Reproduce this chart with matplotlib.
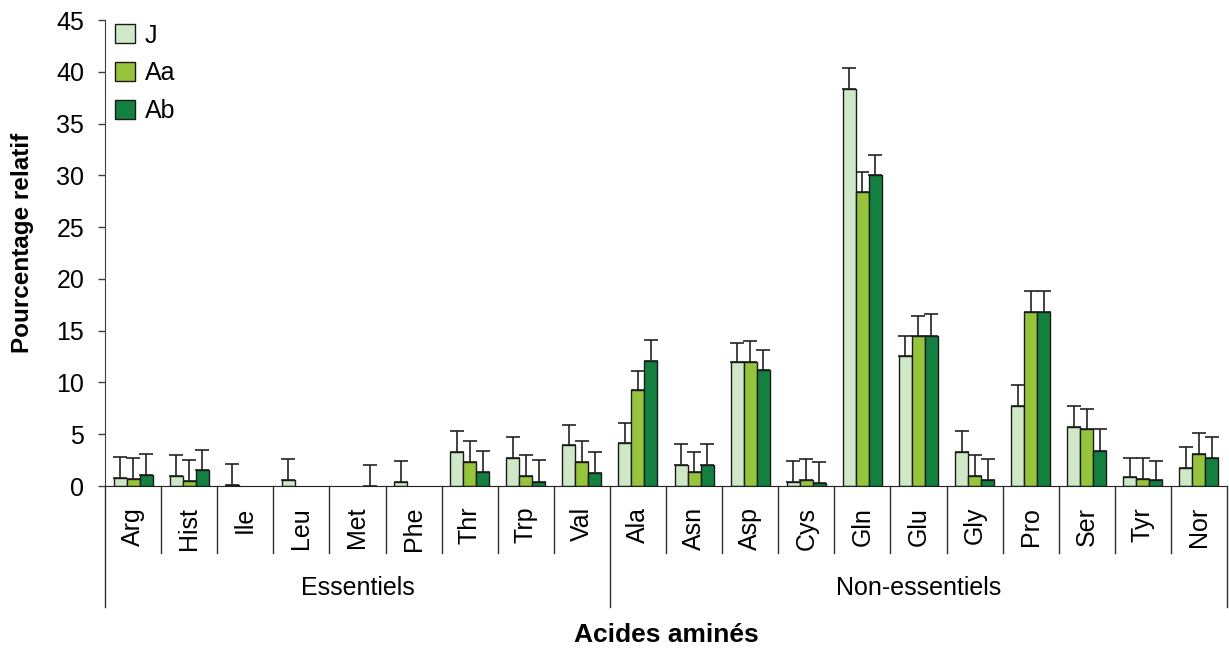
import numpy as np
import matplotlib
matplotlib.use('Agg')
import matplotlib.pyplot as plt
import matplotlib.transforms as mtransforms
from matplotlib.patches import Patch

plt.rcParams['font.family'] = ['Liberation Sans', 'DejaVu Sans']

acides = ['Arg', 'Hist', 'Ile', 'Leu', 'Met', 'Phe', 'Thr', 'Trp', 'Val',
          'Ala', 'Asn', 'Asp', 'Cys', 'Gln', 'Glu', 'Gly', 'Pro', 'Ser', 'Tyr', 'Nor']
groupes = ['Essentiels', 'Non-essentiels']
n_essentiels = 9

series = ['J', 'Aa', 'Ab']
val_J = [0.8, 0.93, 0.13, 0.58, 0.0, 0.42, 3.28, 2.7, 3.96,
         4.18, 2.03, 11.94, 0.39, 38.3, 12.6, 3.25, 7.72, 5.7, 0.84, 1.77]
val_Aa = [0.65, 0.52, 0.0, 0.0, 0.0, 0.0, 2.32, 0.93, 2.32,
          9.24, 1.32, 11.94, 0.55, 28.4, 14.5, 0.97, 16.8, 5.47, 0.68, 3.12]
val_Ab = [1.1, 1.5, 0.0, 0.0, 0.0, 0.0, 1.35, 0.39, 1.22,
          12.1, 2.03, 11.17, 0.26, 30.0, 14.5, 0.55, 16.8, 3.38, 0.55, 2.7]

# upper ends of the error bars
haut_J = [2.83, 3.0, 2.15, 2.58, None, 2.44, 5.3, 4.76, 5.86,
          6.1, 4.05, 13.83, 2.44, 40.4, 14.5, 5.3, 9.75, 7.75, 2.73, 3.79]
haut_Aa = [2.7, 2.48, None, None, None, None, 4.34, 3.0, 4.34,
           11.13, 3.25, 14.0, 2.6, 30.3, 16.4, 2.99, 18.8, 7.46, 2.73, 5.15]
haut_Ab = [3.1, 3.5, None, None, 2.03, None, 3.4, 2.48, 3.31,
           14.1, 4.05, 13.15, 2.32, 32.0, 16.6, 2.57, 18.8, 5.47, 2.44, 4.76]

couleurs = ['#cfe8c8', '#96c43c', '#138040']

fig = plt.figure(figsize=(12.29, 6.51), dpi=100)
ax = fig.add_axes([105/1229, 1 - 486/651, 1122/1229, 466/651])

x = np.arange(len(acides)) + 0.5
w = 0.232
for k, (vals, hauts, c, nom) in enumerate(zip([val_J, val_Aa, val_Ab],
                                              [haut_J, haut_Aa, haut_Ab],
                                              couleurs, series)):
    pos = x + (k - 1) * w
    vals = np.array(vals)
    nz = vals > 0
    ax.bar(pos[nz], vals[nz], width=w, color=c, edgecolor='#1a1a1a',
           linewidth=1.0, label=nom, zorder=2)
    err = np.array([h - v if h is not None else np.nan for h, v in zip(hauts, vals)])
    ok = ~np.isnan(err)
    ax.errorbar(pos[ok], vals[ok], yerr=[np.zeros(ok.sum()), err[ok]], fmt='none',
                ecolor='#222222', elinewidth=1.2, capsize=5, capthick=1.2, zorder=1)

ax.set_xlim(0, len(acides))
ax.set_ylim(0, 45)
ax.set_yticks(np.arange(0, 46, 5))
ax.tick_params(axis='y', labelsize=18, length=5, width=1, direction='out',
               pad=10, color='#404040')
ax.set_xticks(x)
ax.set_xticklabels(acides, rotation=90, fontsize=18)
ax.tick_params(axis='x', length=0, pad=15)

for s in ['top', 'right']:
    ax.spines[s].set_visible(False)
ax.spines['left'].set_color('#404040')
ax.spines['bottom'].set_color('#202020')

# separators under the axis
trans = mtransforms.blended_transform_factory(ax.transData, ax.transAxes)
bornes = [0, n_essentiels, len(acides)]
for i in range(len(acides) + 1):
    bas = -0.26 if i in bornes else -0.144
    ax.plot([i, i], [0, bas], color='#303030', lw=1.0, transform=trans,
            clip_on=False)

ax.text(n_essentiels / 2, -0.219, groupes[0], transform=trans, ha='center',
        va='center', fontsize=18)
ax.text((n_essentiels + len(acides)) / 2, -0.219, groupes[1], transform=trans,
        ha='center', va='center', fontsize=18)

ax.text(0.5, -0.32, 'Acides aminés', transform=ax.transAxes, ha='center',
        va='center', fontsize=19, fontweight='bold')
fig.text(23/1229, 1 - 243/651, 'Pourcentage relatif', rotation=90, ha='center',
         va='center', fontsize=17.5, fontweight='bold')

poignees = [Patch(facecolor=c, edgecolor='#1a1a1a', linewidth=1.0) for c in couleurs]
ax.legend(poignees, series, loc='upper left', bbox_to_anchor=(-0.007, 1.03),
          frameon=False, fontsize=18, handlelength=0.8, handleheight=0.8,
          handletextpad=0.4, labelspacing=0.55, borderaxespad=0.3)

fig.savefig('out.png', dpi=100)
